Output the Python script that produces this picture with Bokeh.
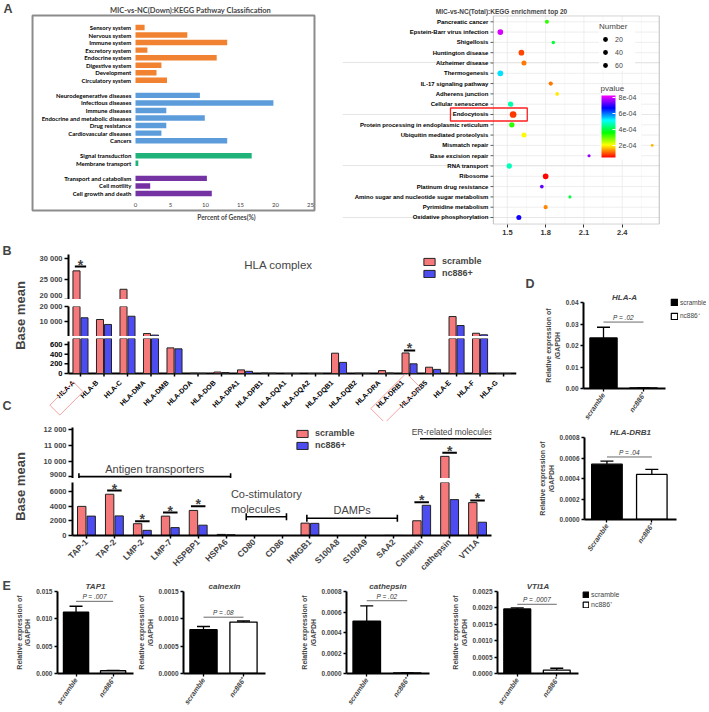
import colorsys
import numpy as np
from bokeh.plotting import figure
from bokeh.models import (ColumnDataSource, Range1d, FixedTicker, Label, LabelSet, Legend,
                          LegendItem, LinearColorMapper, ColorBar, Whisker, TeeHead,
                          NumeralTickFormatter)
from bokeh.layouts import row, column
from bokeh.core.properties import value
from bokeh.transform import factor_cmap
from bokeh.embed import file_html
from bokeh.resources import INLINE

FONT = "Liberation Sans"
FONT_A = "Lato"

# ---------------- A (left): KEGG pathway classification ----------------
class_group = (["Organismal Systems"] * 8 + ["Human Diseases"] * 7 +
               ["Environmental Information Processing"] * 2 + ["Cellular Processes"] * 3)
class_term = ["Sensory system", "Nervous system", "Immune system", "Excretory system",
              "Endocrine system", "Digestive system", "Development", "Circulatory system",
              "Neurodegenerative diseases", "Infectious diseases", "Immune diseases",
              "Endocrine and metabolic diseases", "Drug resistance", "Cardiovascular diseases",
              "Cancers", "Signal transduction", "Membrane transport",
              "Transport and catabolism", "Cell motility", "Cell growth and death"]
class_percent = [1.3, 7.4, 13.1, 1.7, 11.6, 3.7, 3.0, 4.5,
                 9.2, 19.7, 4.4, 9.9, 4.4, 3.7, 13.1,
                 16.6, 0.4,
                 10.2, 2.1, 10.9]
percent_ticks = [0, 5, 10, 15, 20, 25]
group_colors = ["#F08231", "#5D9CDB", "#1FB37A", "#7432A3"]

# ---------------- A (right): KEGG enrichment top 20 ----------------
enrich_term = ["Pancreatic cancer", "Epstein-Barr virus infection", "Shigellosis",
               "Huntington disease", "Alzheimer disease", "Thermogenesis",
               "IL-17 signaling pathway", "Adherens junction", "Cellular senescence",
               "Endocytosis", "Protein processing in endoplasmic reticulum",
               "Ubiquitin mediated proteolysis", "Mismatch repair", "Base excision repair",
               "RNA transport", "Ribosome", "Platinum drug resistance",
               "Amino sugar and nucleotide sugar metabolism", "Pyrimidine metabolism",
               "Oxidative phosphorylation"]
enrich_rich = [1.81, 1.445, 1.86, 1.61, 1.63, 1.445, 1.84, 1.89, 1.525, 1.545,
               1.535, 1.63, 2.635, 2.14, 1.515, 1.80, 1.77, 1.99, 1.80, 1.59]
enrich_number = [13, 30, 8, 30, 23, 30, 16, 10, 26, 40,
                 26, 23, 2, 4, 26, 30, 10, 4, 15, 23]
enrich_pvalue = [3.3e-4, 8.0e-4, 3.9e-4, 0.9e-4, 1.2e-4, 5.3e-4, 1.2e-4, 1.9e-4, 4.6e-4, 0.8e-4,
                 3.3e-4, 2.0e-4, 1.6e-4, 7.6e-4, 4.7e-4, 0.5e-4, 7.3e-4, 4.0e-4, 1.3e-4, 6.8e-4]
enrich_boxed = "Endocytosis"
number_breaks = [20, 40, 60]
pvalue_ticks = [2e-4, 4e-4, 6e-4, 8e-4]
pvalue_tick_text = ["2e-04", "4e-04", "6e-04", "8e-04"]
rich_ticks = [1.5, 1.8, 2.1, 2.4]
rich_minor = [1.65, 1.95, 2.25, 2.55]

# ---------------- B: HLA complex ----------------
hla_gene = ["HLA-A", "HLA-B", "HLA-C", "HLA-DMA", "HLA-DMB", "HLA-DOA", "HLA-DOB", "HLA-DPA1",
            "HLA-DPB1", "HLA-DQA1", "HLA-DQA2", "HLA-DQB1", "HLA-DQB2", "HLA-DRA", "HLA-DRB1",
            "HLA-DRB5", "HLA-E", "HLA-F", "HLA-G"]
hla_scramble = [27000, 11600, 22500, 2500, 530, 6, 30, 75, 8, 0, 0, 420, 5, 60, 425, 130, 13500, 2700, 0]
hla_nc886 = [12700, 8400, 13700, 1500, 510, 3, 20, 45, 5, 0, 0, 230, 2, 8, 200, 85, 7700, 1700, 0]
hla_sig_gene = ["HLA-A", "HLA-DRB1"]
hla_sig_level = [28050, 476]
hla_boxed_gene = ["HLA-A", "HLA-DRB1"]
b_top_ticks = [20000, 25000, 30000]
b_top_text = ["20 000", "25 000", "30 000"]
b_mid_ticks = [10000, 20000]
b_mid_text = ["10 000", "20 000"]
b_low_ticks = [0, 200, 400, 600]
b_low_text = ["0", "200", "400", "600"]

# ---------------- C: antigen processing etc. ----------------
c_gene = ["TAP-1", "TAP-2", "LMP-2", "LMP-7", "HSPBP1", "HSPA6", "CD80", "CD86", "HMGB1",
          "S100A8", "S100A9", "SAA2", "Calnexin", "cathepsin", "VTI1A"]
c_scramble = [3950, 5600, 1600, 2630, 3400, 150, 0, 0, 1680, 0, 0, 20, 2000, 10300, 4460]
c_nc886 = [2630, 2660, 700, 1070, 1400, 100, 0, 0, 1650, 0, 0, 10, 4100, 4870, 1800]
c_sig_gene = ["TAP-2", "LMP-2", "LMP-7", "HSPBP1", "Calnexin", "cathepsin", "VTI1A"]
c_sig_level = [6100, 1930, 3120, 3980, 4500, 10530, 4750]
c_group = ["Antigen transporters", "Co-stimulatory\nmolecules", "DAMPs", "ER-related  molecules"]
c_group_first = ["TAP-1", "CD80", "HMGB1", "Calnexin"]
c_group_last = ["HSPA6", "CD86", "SAA2", "VTI1A"]
c_group_level = [9000, 2540, 2330, 11430]
c_top_ticks = [9000, 10000, 11000, 12000]
c_top_text = ["9000", "10 000", "11 000", "12 000"]
c_low_ticks = [0, 2000, 4000, 6000]
c_low_text = ["0", "2000", "4000", "6000"]

# ---------------- D: qPCR HLA ----------------
d_gene = ["HLA-A", "HLA-DRB1"]
d_scramble = [0.0235, 0.00054]
d_scramble_err = [0.0050, 0.00003]
d_nc886 = [0.0003, 0.00044]
d_nc886_err = [0.0001, 0.00005]
d_p_text = ["P = .02", "P = .04"]
d_p_level = [0.0309, 0.00061]
d_ymax = [0.04, 0.0008]
d_ystep = [0.01, 0.0002]
d_fmt = ["0.00", "0.0000"]
d_xlabels = [["scramble", "nc886\u207a"], ["Scramble", "nc886\u207a"]]

# ---------------- E: qPCR other genes ----------------
e_gene = ["TAP1", "calnexin", "cathepsin", "VTI1A"]
e_scramble = [0.0112, 0.00080, 0.00051, 0.00197]
e_scramble_err = [0.0011, 0.00006, 0.00015, 0.00003]
e_nc886 = [0.00050, 0.00094, 0.000005, 0.00010]
e_nc886_err = [0.00007, 0.00002, 0.000002, 0.00006]
e_p_text = ["P = .007", "P = .08", "P = .02", "P = .0007"]
e_p_level = [0.0132, 0.00103, 0.00071, 0.00211]
e_ymax = [0.015, 0.0015, 0.0008, 0.0025]
e_ystep = [0.005, 0.0005, 0.0002, 0.0005]
e_fmt = ["0.000", "0.0000", "0.0000", "0.0000"]
e_xlabels = ["scramble", "nc886\u207a"]
group_labels = ["scramble", "nc886\u207a"]

PINK = "#F5797B"
BLUE = "#4C4CF0"
EDGE = "#222222"


def new_fig(**kw):
    return figure(output_backend="svg", toolbar_location=None, **kw)


def solo(p):
    """Wrap a figure on its own so that rows/columns do not align its frame with others."""
    return column(p)


def blank_fig(width, height):
    """Figure whose frame is its whole canvas (no axes, no grid)."""
    p = new_fig(width=width, height=height, x_range=Range1d(0, width), y_range=Range1d(0, height),
                x_axis_location=None, y_axis_location=None, min_border=0)
    p.outline_line_color = None
    p.xgrid.visible = False
    p.ygrid.visible = False
    return p


def strip(width, height, items):
    p = blank_fig(width, height)
    for x, y, t, ang, size, align in items:
        p.add_layout(Label(x=x, y=y, text=t, angle=ang, text_font=FONT, text_font_style="bold",
                           text_font_size=size, text_align=align, text_baseline="middle"))
    return p


def legend_fig(width, height, loc, fs="6.5px", spacing=4, glyph=7):
    p = blank_fig(width, height)
    src = ColumnDataSource(dict(x=np.array([np.nan, np.nan]), top=np.array([np.nan, np.nan]),
                                fill=["black", "white"]))
    r = p.vbar(x="x", top="top", width=1, fill_color="fill", line_color="black", line_width=1.2,
               source=src)
    p.add_layout(Legend(items=[LegendItem(label=group_labels[i], renderers=[r], index=i)
                               for i in range(2)],
                        location=loc, background_fill_alpha=0, border_line_color=None,
                        padding=0, margin=0, spacing=spacing, glyph_width=glyph,
                        glyph_height=glyph, label_height=glyph, label_standoff=2,
                        label_text_font=FONT, label_text_font_size=fs))
    return p


def screen_label(p, x, y, text, size, style="bold", font=FONT, align="center"):
    p.add_layout(Label(x=x, y=y, x_units="screen", y_units="screen", text=text, text_font=font,
                       text_font_style=style, text_font_size=size, text_align=align,
                       text_baseline="middle"))


# ====================== A left (frame = whole canvas) ======================
A1_W, A1_H = 340, 238
A_PX = 7.0                   # pixels per percent
A_X0 = 135                   # pixel of 0 %
A_SLOT = 7.545               # pixels per row slot
A_Y0 = 27                    # pixel of first slot
BOX = (-14.71, 25.57, -1.59, 24.25)   # box: left, right, top, bottom (data)
group_order = list(dict.fromkeys(class_group))
slot = np.arange(len(class_term)) + np.array([group_order.index(g) for g in class_group])
srcA = ColumnDataSource(dict(y=slot, right=class_percent, group=class_group, term=class_term))
fA1 = new_fig(width=A1_W, height=A1_H,
              x_range=Range1d(-A_X0 / A_PX, (A1_W - A_X0) / A_PX),
              y_range=Range1d((A1_H - A_Y0) / A_SLOT, -A_Y0 / A_SLOT),
              x_axis_location=None, y_axis_location=None, min_border=0)
fA1.outline_line_color = None
fA1.xgrid.visible = False
fA1.ygrid.visible = False
fA1.quad(left=BOX[0], right=BOX[1], top=BOX[2], bottom=BOX[3], fill_color=None,
         line_color="#8c8c8c", line_width=2)
fA1.hbar(y="y", left=0, right="right", height=0.72, line_color=None,
         fill_color=factor_cmap("group", group_colors, group_order), source=srcA)
fA1.text(x=-0.6, y="y", text="term", text_align="right", text_baseline="middle",
         text_font=value(FONT_A), text_font_style="bold", text_font_size="6px", source=srcA)
fA1.text(x=percent_ticks, y=[23.59] * len(percent_ticks), text=[str(t) for t in percent_ticks],
         text_align="center", text_baseline="middle", text_font=value(FONT_A),
         text_font_size="6px", text_color="#444444")
screen_label(fA1, 190, A1_H - 10, "MIC-vs-NC(Down):KEGG Pathway Classification", "7.5px",
             font=FONT_A)
screen_label(fA1, 226, A1_H - 217, "Percent of Genes(%)", "6.5px", font=FONT_A)
screen_label(fA1, 3, A1_H - 8, "A", "12.5px", align="left")

# ====================== A right ======================
ny = len(enrich_term)
ypos = ny - 1 - np.arange(ny)
dot = 2.7 + 0.1 * np.array(enrich_number)
palette = []
for h in np.linspace(0, 300, 256):
    r, g, b = colorsys.hsv_to_rgb(h / 360.0, 1.0, 1.0)
    palette.append("#%02x%02x%02x" % (int(r * 255), int(g * 255), int(b * 255)))
mapper = LinearColorMapper(palette=palette, low=0.45e-4, high=8.25e-4)
PX0, PX1 = 1.39, 2.69          # panel extent in x (rich factor)
PY0, PY1 = -0.65, 19.58        # panel extent in y (rows)
srcE = ColumnDataSource(dict(x=enrich_rich, y=ypos, size=dot, p=enrich_pvalue, term=enrich_term))
fA2 = new_fig(width=366, height=238, x_range=Range1d(0.208, 2.70), y_range=Range1d(-0.68, 19.61),
              y_axis_location=None, min_border_left=2, min_border_right=46, min_border_top=15,
              min_border_bottom=14, title="MIC-vs-NC(Total):KEGG enrichment top 20")
fA2.title.align = "center"
fA2.title.offset = 59
fA2.title.standoff = 2
fA2.title.text_font = FONT
fA2.title.text_font_size = "6.5px"
fA2.outline_line_color = None
fA2.xgrid.visible = False
fA2.segment(x0=rich_minor, x1=rich_minor, y0=PY0, y1=PY1, line_color="#F4F4F4", line_width=0.6)
fA2.segment(x0=rich_ticks, x1=rich_ticks, y0=PY0, y1=PY1, line_color="#E6E6E6", line_width=0.7)
fA2.segment(x0=PX0, x1=PX1, y0=ypos, y1=ypos, line_color="#E6E6E6", line_width=0.7)
fA2.quad(left=PX0, right=PX1, bottom=PY0, top=PY1, fill_color=None, line_color="#BDBDBD",
         line_width=1)
fA2.segment(x0=PX0 - 0.022, x1=PX0, y0=ypos, y1=ypos, line_color="#333333", line_width=0.8)
fA2.text(x=PX0, y="y", text="term", x_offset=-5, text_align="right", text_baseline="middle",
         text_font=value(FONT), text_font_style="bold", text_font_size="6px", source=srcE)
fA2.scatter("x", "y", size="size", fill_color={"field": "p", "transform": mapper},
            line_color=None, source=srcE)
endo_y = float(ypos[enrich_term.index(enrich_boxed)])
fA2.quad(left=1.054, right=1.656, bottom=endo_y - 0.63, top=endo_y + 0.63, fill_color=None,
         line_color="#FF2020", line_width=1.3)
xa = fA2.xaxis[0]
xa.ticker = FixedTicker(ticks=rich_ticks)
xa.axis_line_color = None
xa.major_tick_line_color = "#333333"
xa.major_tick_out = 3
xa.major_tick_in = 0
xa.minor_tick_line_color = None
xa.major_label_text_font = FONT
xa.major_label_text_font_style = "bold"
xa.major_label_text_font_size = "7.5px"
xa.major_label_text_color = "#333333"
xa.major_label_standoff = 2
size_src = ColumnDataSource(dict(x=np.array([np.nan] * 3), y=np.array([np.nan] * 3),
                                 size=2.7 + 0.1 * np.array(number_breaks)))
r_sz = fA2.scatter("x", "y", size="size", fill_color="black", line_color=None, source=size_src)
leg_n = Legend(items=[LegendItem(label=str(b), renderers=[r_sz], index=i)
                      for i, b in enumerate(number_breaks)],
               title="Number", location=(257, 153), padding=2, margin=0, spacing=1,
               glyph_width=12, glyph_height=12, label_height=12, label_standoff=4,
               label_text_font=FONT, label_text_font_size="7px", title_text_font=FONT,
               title_text_font_size="8px", title_text_font_style="normal", title_standoff=2,
               border_line_color=None, background_fill_color="white")
fA2.add_layout(leg_n)
cb = ColorBar(color_mapper=mapper, location=(257, 65), width=14, height=62, padding=2,
              ticker=FixedTicker(ticks=pvalue_ticks),
              major_label_overrides=dict(zip(pvalue_ticks, pvalue_tick_text)),
              major_label_text_font=FONT, major_label_text_font_size="7px",
              major_tick_line_color="white", major_tick_in=3, major_tick_out=0,
              bar_line_color=None, label_standoff=3)
fA2.add_layout(cb)
screen_label(fA2, 258, 136, "pvalue", "8px", style="normal", align="left")


# ====================== B / C helpers ======================
def style_axis(ax, size):
    ax.axis_line_width = 2
    ax.major_tick_line_width = 1.5
    ax.major_tick_out = 4
    ax.major_tick_in = 0
    ax.minor_tick_line_color = None
    ax.major_label_text_font = FONT
    ax.major_label_text_font_style = "bold"
    ax.major_label_text_font_size = size
    ax.major_label_standoff = 2


def seg_fig(width, height, xr, yr, ticks, tick_text, left, right, top, bottom,
            xnames=None, xfont="7px"):
    p = new_fig(width=width, height=height, x_range=Range1d(*xr), y_range=Range1d(*yr),
                x_axis_location="below" if xnames else None, y_axis_location="left",
                min_border_left=left, min_border_right=right, min_border_top=top,
                min_border_bottom=bottom)
    p.outline_line_color = None
    p.xgrid.visible = False
    p.ygrid.visible = False
    ya = p.yaxis[0]
    ya.ticker = FixedTicker(ticks=ticks)
    ya.major_label_overrides = dict(zip(ticks, tick_text))
    style_axis(ya, "7.5px")
    if xnames:
        xa = p.xaxis[0]
        xa.ticker = FixedTicker(ticks=list(range(len(xnames))))
        xa.major_label_overrides = {i: s for i, s in enumerate(xnames)}
        xa.major_label_orientation = np.pi / 4
        style_axis(xa, xfont)
        xa.major_tick_out = 3
    return p


def draw_pair(p, src):
    r1 = p.vbar(x="xs", top="s", width=0.3, fill_color=PINK, line_color=EDGE, line_width=1,
                source=src)
    r2 = p.vbar(x="xn", top="n", width=0.3, fill_color=BLUE, line_color=EDGE, line_width=1,
                source=src)
    return r1, r2


def add_stars(p, xs, levels, half=0.22):
    xs = np.asarray(xs, dtype=float)
    levels = np.asarray(levels, dtype=float)
    p.segment(x0=xs - half, x1=xs + half, y0=levels, y1=levels, line_color="black", line_width=2)
    src = ColumnDataSource(dict(x=xs, y=levels, t=["*"] * len(xs)))
    p.add_layout(LabelSet(x="x", y="y", text="t", source=src, text_align="center",
                          text_baseline="alphabetic", text_font=value(FONT),
                          text_font_size="14px", text_font_style="bold", y_offset=-3))


def add_legend(p, r1, r2, loc, fs):
    p.add_layout(Legend(items=[LegendItem(label="scramble", renderers=[r1]),
                               LegendItem(label="nc886+", renderers=[r2])],
                        location=loc, background_fill_alpha=0, border_line_color=None,
                        padding=0, margin=0, spacing=2, glyph_width=14, glyph_height=9,
                        label_height=9, label_standoff=6, label_text_font=FONT,
                        label_text_font_style="bold", label_text_font_size=fs))


# ====================== B ======================
nb = len(hla_gene)
bx = np.arange(nb)
srcB = ColumnDataSource(dict(xs=bx - 0.17, xn=bx + 0.17, s=hla_scramble, n=hla_nc886))
BXR = (-0.51, 18.55)
BW = 494
B_LEFT, B_RIGHT = 40, 6
B_PX = (BW - B_LEFT - B_RIGHT) / (BXR[1] - BXR[0])       # pixels per category
B_top = seg_fig(BW, 61, BXR, (20000, 31000), b_top_ticks, b_top_text, B_LEFT, B_RIGHT, 16, 0)
B_mid = seg_fig(BW, 37, BXR, (600, 20000), b_mid_ticks, b_mid_text, B_LEFT, B_RIGHT, 7, 0)

# lowest segment: its frame also covers the tick-label area (whole canvas width, below zero),
# so that the highlighted gene labels can be boxed like in the original
B_UPX = 600 / 29.0                 # data units per pixel in the lowest segment
B_LOW_TOP = 662                    # upper end of the lowest segment's axis
B_LOW_H, B_LOW_TOPB, B_ZERO = 85, 2, 35   # canvas height, top border, px from frame top to 0
B_LOW_Y = (-(B_LOW_H - B_LOW_TOPB - B_ZERO) * B_UPX, B_ZERO * B_UPX)
B_low = new_fig(width=BW, height=B_LOW_H, x_range=Range1d(BXR[0] - B_LEFT / B_PX, BXR[1]),
                y_range=Range1d(*B_LOW_Y), x_axis_location=None, y_axis_location=None,
                min_border_left=0, min_border_right=B_RIGHT, min_border_top=B_LOW_TOPB,
                min_border_bottom=0)
B_low.outline_line_color = None
B_low.xgrid.visible = False
B_low.ygrid.visible = False
# y axis of the lowest segment
B_low.segment(x0=[BXR[0]], x1=[BXR[0]], y0=[0], y1=[B_LOW_TOP], line_color="black", line_width=2)
B_low.segment(x0=BXR[0] - 4 / B_PX, x1=BXR[0], y0=b_low_ticks, y1=b_low_ticks,
              line_color="black", line_width=1.5)
B_low.text(x=BXR[0], y=b_low_ticks, text=b_low_text, x_offset=-6, text_align="right",
           text_baseline="middle", text_font=value(FONT), text_font_style="bold",
           text_font_size="7.5px")
# x axis
B_low.segment(x0=[BXR[0]], x1=[BXR[1]], y0=[0], y1=[0], line_color="black", line_width=2)
B_low.segment(x0=bx, x1=bx, y0=0, y1=-3 * B_UPX, line_color="black", line_width=1.5)
B_low.text(x=bx, y=0, text=hla_gene, angle=np.pi / 4, text_align="right", text_baseline="middle",
           x_offset=-7, y_offset=8, text_font=value(FONT), text_font_style="bold",
           text_font_size="7px")
bi = np.array([hla_gene.index(g) for g in hla_boxed_gene])
B_low.rect(x=bi - 14 / B_PX, y=np.array([-25, -24.5]) * B_UPX, width=[33, 50], height=[14, 20],
           angle=np.pi / 4, width_units="screen", height_units="screen", fill_color=None,
           line_color="#F4A3A3", line_width=1)

for f, lo, hi in [(B_top, 20000, 31000), (B_mid, 600, 20000), (B_low, 0, B_LOW_TOP)]:
    r1, r2 = draw_pair(f, srcB)
    if f is B_top:
        add_legend(f, r1, r2, (354, 21), "9px")
    sel = [(hla_gene.index(g), lv) for g, lv in zip(hla_sig_gene, hla_sig_level) if lo <= lv < hi]
    if sel:
        add_stars(f, [s[0] for s in sel], [s[1] for s in sel], half=0.24)
screen_label(B_top, 210, 35, "HLA complex", "11.5px", style="normal")

# ====================== C ======================
nc = len(c_gene)
cx = np.arange(nc)
srcC = ColumnDataSource(dict(xs=cx - 0.17, xn=cx + 0.17, s=c_scramble, n=c_nc886))
CXR = (-0.5, 14.5)
C_TOP_Y = (8880, 12150)
C_LOW_Y = (0, 7190)
C_top = seg_fig(BW, 57, CXR, C_TOP_Y, c_top_ticks, c_top_text, 44, 31, 6, 0)
C_low = seg_fig(BW, 100, CXR, C_LOW_Y, c_low_ticks, c_low_text, 44, 31, 4, 37,
                xnames=c_gene, xfont="8.5px")
c_group_pad = [(0.27, 0.16), (0.28, 0.16), (0.11, 0.13), (0.06, 0.5)]
c_group_caps = [True, True, True, False]
c_group_font = ["11px", "11px", "11px", "8.5px"]
for f, (lo, hi) in [(C_top, C_TOP_Y), (C_low, C_LOW_Y)]:
    r1, r2 = draw_pair(f, srcC)
    if f is C_top:
        add_legend(f, r1, r2, (223, 28), "9px")
    sel = [(c_gene.index(g), lv) for g, lv in zip(c_sig_gene, c_sig_level) if lo <= lv < hi]
    if sel:
        add_stars(f, [s[0] for s in sel], [s[1] for s in sel], half=0.26)
    for name, a, b, lv, pad, caps, fs in zip(c_group, c_group_first, c_group_last,
                                             c_group_level, c_group_pad, c_group_caps,
                                             c_group_font):
        if not (lo <= lv < hi):
            continue
        x0 = c_gene.index(a) - pad[0]
        x1 = c_gene.index(b) + pad[1]
        f.segment(x0=[x0], x1=[x1], y0=[lv], y1=[lv], line_color="black", line_width=1.6)
        if caps:
            f.scatter(x=[x0, x1], y=[lv, lv], marker="dash", angle=np.pi / 2, size=7,
                      line_color="black", line_width=1.6)
        tx = (x0 + x1) / 2 if caps else (x0 + x1) / 2 - 0.08
        tsrc = ColumnDataSource(dict(x=[tx], y=[lv], t=[name]))
        f.add_layout(LabelSet(x="x", y="y", text="t", source=tsrc, text_align="center",
                              text_baseline="bottom", text_font=value(FONT),
                              text_font_size=fs, y_offset=2))

lab = strip(28, 340, [(2, 328, "B", 0, "12.5px", "left"), (2, 173, "C", 0, "12.5px", "left"),
                      (20, 263, "Base mean", np.pi / 2, "13px", "center"),
                      (20, 92, "Base mean", np.pi / 2, "13px", "center")])


# ====================== D / E helper ======================
def qpcr_fig(width, height, left, right, top, bottom, vals, errs, xlabels, ymax, ystep, fmt,
             p_text, p_level, title, title_offset):
    p = new_fig(width=width, height=height, x_range=Range1d(-0.5, 1.55), y_range=Range1d(0, ymax),
                min_border_left=left, min_border_right=right, min_border_top=top,
                min_border_bottom=bottom, title=title)
    p.title.align = "center"
    p.title.offset = title_offset
    p.title.standoff = 1
    p.title.text_font = FONT
    p.title.text_font_style = "bold italic"
    p.title.text_font_size = "8px"
    p.outline_line_color = None
    p.xgrid.visible = False
    p.ygrid.visible = False
    src = ColumnDataSource(dict(x=[0, 1], top=vals, up=np.array(vals) + np.array(errs),
                                fill=["black", "white"]))
    p.vbar(x="x", top="top", width=0.68, fill_color="fill", line_color="black",
           line_width=1.3, source=src)
    p.add_layout(Whisker(base="x", lower="top", upper="up", source=src, line_width=1.3,
                         upper_head=TeeHead(size=13, line_width=1.3), lower_head=None))
    p.segment(x0=[0], x1=[1], y0=[p_level], y1=[p_level], line_color="#444444", line_width=0.8)
    p.text(x=[0.5], y=[p_level], text=[p_text], text_align="center", text_baseline="bottom",
           y_offset=-1, text_font=value(FONT), text_font_size="6.5px", text_font_style="italic",
           text_color="#333333")
    ya = p.yaxis[0]
    xa = p.xaxis[0]
    ya.ticker = FixedTicker(ticks=[float(v) for v in np.round(np.arange(0, ymax + ystep / 2, ystep), 7)])
    ya.formatter = NumeralTickFormatter(format=fmt)
    ya.axis_label = "Relative expression of\n/GAPDH"
    ya.axis_label_text_font = FONT
    ya.axis_label_text_font_style = "bold"
    ya.axis_label_text_font_size = "7px"
    ya.axis_label_standoff = 2
    xa.ticker = FixedTicker(ticks=[0, 1])
    xa.major_label_overrides = {0: xlabels[0], 1: xlabels[1]}
    xa.major_label_orientation = 0.96
    for ax in (ya, xa):
        style_axis(ax, "6.5px")
        ax.major_tick_line_width = 1.3
        ax.major_tick_out = 3
    xa.major_label_text_font_style = "bold italic"
    xa.major_label_text_font_size = "7px"
    return p


# ====================== D ======================
D1 = qpcr_fig(132, 187, 47, 3, 64, 36, [d_scramble[0], d_nc886[0]],
              [d_scramble_err[0], d_nc886_err[0]], d_xlabels[0], d_ymax[0], d_ystep[0],
              d_fmt[0], d_p_text[0], d_p_level[0], d_gene[0], 4)
legD = legend_fig(38, 187, (2, 105), fs="6.5px", spacing=5, glyph=8)
D2 = qpcr_fig(170, 153, 44, 30, 10, 59, [d_scramble[1], d_nc886[1]],
              [d_scramble_err[1], d_nc886_err[1]], d_xlabels[1], d_ymax[1], d_ystep[1],
              d_fmt[1], d_p_text[1], d_p_level[1], d_gene[1], 4)
stripD = strip(14, 340, [(3, 295, "D", 0, "12.5px", "left")])

# ====================== E ======================
e_width = [123, 163, 151, 131]
e_left = [41, 44, 44, 44]
e_right = [2, 33, 20, 2]
e_title_offset = [-5, 18, -13, -19]
e_figs = []
for i in range(4):
    f = qpcr_fig(e_width[i], 132, e_left[i], e_right[i], 13, 35,
                 [e_scramble[i], e_nc886[i]], [e_scramble_err[i], e_nc886_err[i]],
                 e_xlabels, e_ymax[i], e_ystep[i], e_fmt[i], e_p_text[i], e_p_level[i],
                 e_gene[i], e_title_offset[i])
    e_figs.append(f)
legE = legend_fig(126, 132, (2, 101), fs="7px", spacing=2, glyph=7)
stripE = strip(12, 132, [(2, 125, "E", 0, "12.5px", "left")])

layout = column(
    row(solo(fA1), solo(fA2)),
    row(solo(lab),
        column(solo(B_top), solo(B_mid), solo(B_low), solo(C_top), solo(C_low)),
        row(solo(stripD), column(row(solo(D1), solo(legD)), solo(D2)))),
    row(solo(stripE), *[solo(f) for f in e_figs], solo(legE)),
)

open("out.html", "w").write(file_html(layout, INLINE))
